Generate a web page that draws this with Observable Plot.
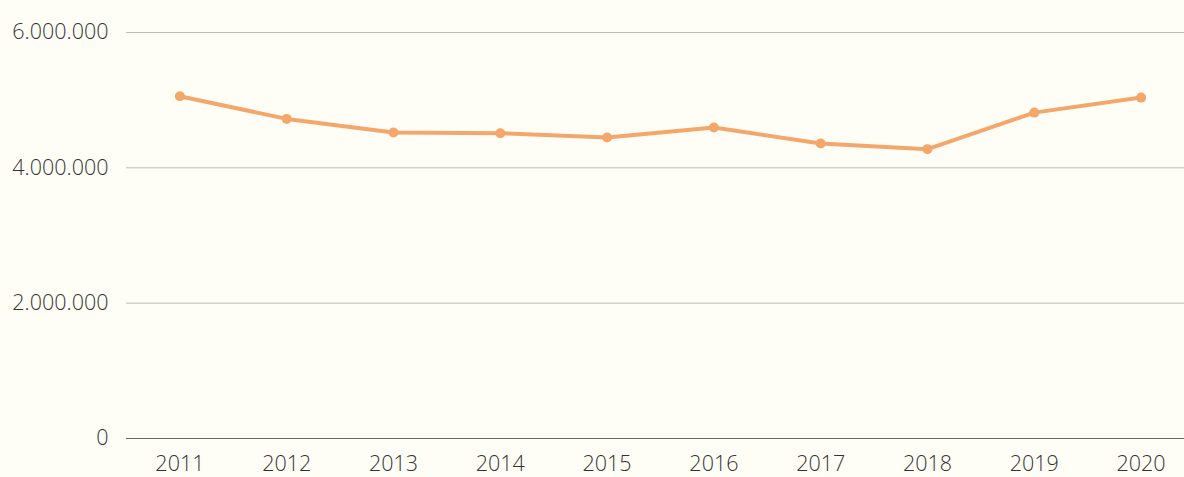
<!DOCTYPE html>
<html>
<head>
<meta charset="utf-8">
<script src="https://cdn.jsdelivr.net/npm/d3@7"></script>
<script src="https://cdn.jsdelivr.net/npm/@observablehq/plot@0.6"></script>
<style>
  html, body { margin: 0; padding: 0; background: #fffef6; overflow: hidden; width: 1184px; height: 477px; }
  #chart { width: 1184px; overflow: hidden; }
  #chart svg { display: block; max-width: none !important; }
</style>
</head>
<body>
<div id="chart"></div>
<script>
const years = ["2011","2012","2013","2014","2015","2016","2017","2018","2019","2020"];
const values = [5058000, 4723000, 4521000, 4512000, 4447000, 4595000, 4359000, 4276000, 4816000, 5038000];
const yTicks = [0, 2000000, 4000000, 6000000];

const data = years.map((y, i) => ({year: y, value: values[i]}));
const locale = d3.formatLocale({decimal: ",", thousands: ".", grouping: [3], currency: ["", ""]});
const fmt = locale.format(",d");
const lineColor = "#f4a76a";
const textColor = "#333333";

const chart = Plot.plot({
  width: 1194,
  height: 477,
  marginLeft: 126,
  marginRight: 0,
  marginTop: 32,
  marginBottom: 39,
  style: {background: "#fffef6", fontFamily: "'Open Sans', sans-serif", fontWeight: 300, color: textColor, fontSize: "21.5px", overflow: "hidden", maxWidth: "none"},
  x: {type: "point", domain: years, padding: 0.5, round: false, label: null},
  y: {domain: [0, 6000000], label: null},
  marks: [
    Plot.gridY(yTicks, {stroke: "#bdbdb5", strokeOpacity: 1}),
    Plot.ruleY([0], {stroke: "#6a6a6a", strokeWidth: 1}),
    Plot.axisY(yTicks, {tickSize: 0, tickPadding: 18, tickFormat: fmt, fontSize: 21.5, fill: textColor, label: null}),
    Plot.axisX({tickSize: 0, tickPadding: 17, fontSize: 21.5, fill: textColor, label: null}),
    Plot.line(data, {x: "year", y: "value", stroke: lineColor, strokeWidth: 4, curve: "linear"}),
    Plot.dot(data, {x: "year", y: "value", r: 5, fill: lineColor, stroke: "none"})
  ]
});
document.getElementById("chart").appendChild(chart);
</script>
</body>
</html>
